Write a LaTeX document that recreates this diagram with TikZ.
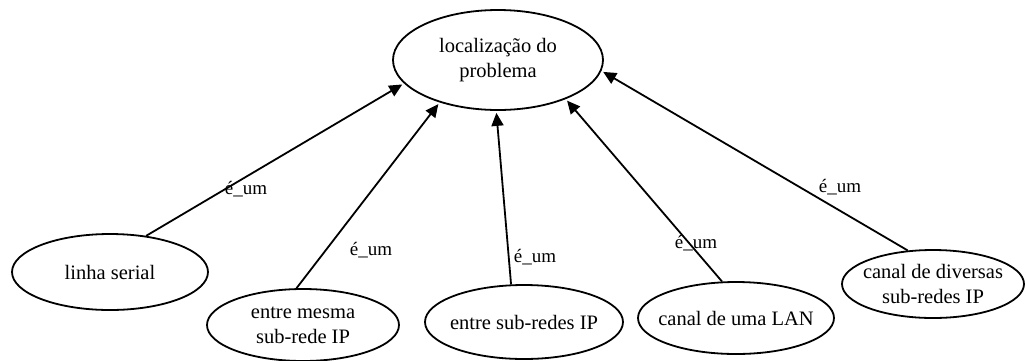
\documentclass[tikz,border=0pt]{standalone}
\usepackage{fontspec}
\setmainfont{Liberation Serif}
\usetikzlibrary{shapes.geometric,arrows.meta}
\begin{document}
\begin{tikzpicture}[x=1pt,y=-1pt,
  concept/.style={draw,ellipse,line width=1.8pt,inner xsep=-70pt,inner ysep=-30pt,align=center,
    font=\fontsize{20.5}{25}\selectfont},
  isa/.style={line width=1.8pt,shorten >=2pt,-{Triangle[length=13pt,width=12pt]}},
  lbl/.style={font=\fontsize{19}{22}\selectfont,inner sep=0pt}]
\useasboundingbox (0,0) rectangle (1026,360);
\node[concept,minimum width=210pt,minimum height=100pt] (top) at (498,60) {localização do\\problema};
\node[concept,minimum width=196pt,minimum height=76pt] (ls) at (110,272) {linha serial};
\node[concept,minimum width=192pt,minimum height=72pt] (em) at (303,325) {entre mesma\\sub-rede IP};
\node[concept,minimum width=198pt,minimum height=74pt] (es) at (524,322) {entre sub-redes IP};
\node[concept,minimum width=196pt,minimum height=72pt] (cl) at (736,318) {canal de uma LAN};
\node[concept,minimum width=182pt,minimum height=68pt] (cd) at (933,284) {canal de diversas\\sub-redes IP};
\draw[isa] (ls.45) -- (top.194);
\draw[isa] (em.100) -- (top.216);
\draw[isa] (es.109) -- (top.268);
\draw[isa] (cl.111) -- (top.330);
\draw[isa] (cd.127) -- (top.354);
\node[lbl] (l1) at (246,189) {é\_um};
\node[lbl] (l2) at (371,250) {é\_um};
\node[lbl] (l3) at (535,257) {é\_um};
\node[lbl] (l4) at (696,243) {é\_um};
\node[lbl] (l5) at (840,187) {é\_um};
\end{tikzpicture}
\end{document}
